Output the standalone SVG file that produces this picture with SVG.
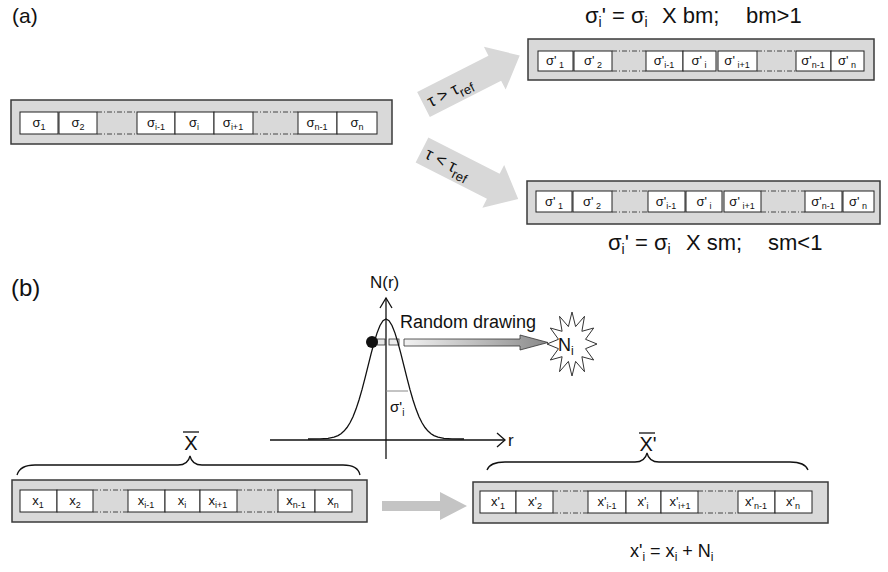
<svg xmlns="http://www.w3.org/2000/svg" width="888" height="572" viewBox="0 0 888 572">
<defs>
<style>
.box{fill:#d9d9d9;stroke:#3a3a3a;stroke-width:1.5}
.cell{fill:#fff;stroke:#222;stroke-width:1}
.dt{fill:none;stroke:#444;stroke-width:1;stroke-dasharray:5 2 1 2}
.t{font-family:"Liberation Sans",Arial,sans-serif;fill:#111}
.lbl{font-family:"Liberation Sans",Arial,sans-serif;font-size:13px;fill:#111;text-anchor:middle}
.sub{font-size:9px}
.garrow{fill:#d8d8d8;stroke:none}
.ax{fill:none;stroke:#111;stroke-width:1.3}
</style>
<linearGradient id="gr" x1="0" y1="0" x2="1" y2="0">
<stop offset="0" stop-color="#f2f2f2"/>
<stop offset="1" stop-color="#8a8a8a"/>
</linearGradient>
</defs>
<rect width="888" height="572" fill="#fff"/>

<text class="t" x="12" y="23" font-size="21">(a)</text>
<text class="t" x="11" y="296" font-size="24">(b)</text>

<!-- Array A1 -->
<g id="arrayA1">
<rect class="box" x="11" y="100" width="381" height="44"/>
<rect class="cell" x="20" y="112" width="38" height="22"/>
<rect class="cell" x="59" y="112" width="38" height="22"/>
<line class="dt" x1="97" y1="112" x2="137" y2="112"/><line class="dt" x1="97" y1="134" x2="137" y2="134"/>
<rect class="cell" x="137" y="112" width="38" height="22"/>
<rect class="cell" x="175" y="112" width="39" height="22"/>
<rect class="cell" x="214" y="112" width="39" height="22"/>
<line class="dt" x1="253" y1="112" x2="298" y2="112"/><line class="dt" x1="253" y1="134" x2="298" y2="134"/>
<rect class="cell" x="298" y="112" width="39" height="22"/>
<rect class="cell" x="337" y="112" width="40" height="22"/>
<text class="lbl" x="39" y="127">σ<tspan class="sub" dy="3">1</tspan></text>
<text class="lbl" x="78" y="127">σ<tspan class="sub" dy="3">2</tspan></text>
<text class="lbl" x="156" y="127">σ<tspan class="sub" dy="3">i-1</tspan></text>
<text class="lbl" x="194" y="127">σ<tspan class="sub" dy="3">i</tspan></text>
<text class="lbl" x="233" y="127">σ<tspan class="sub" dy="3">i+1</tspan></text>
<text class="lbl" x="317" y="127">σ<tspan class="sub" dy="3">n-1</tspan></text>
<text class="lbl" x="357" y="127">σ<tspan class="sub" dy="3">n</tspan></text>
</g>

<!-- Array A2 -->
<g id="arrayA2">
<rect class="box" x="528" y="39" width="346" height="41"/>
<rect class="cell" x="538" y="51" width="35" height="20"/>
<rect class="cell" x="574" y="51" width="38" height="20"/>
<line class="dt" x1="612" y1="51" x2="646" y2="51"/><line class="dt" x1="612" y1="71" x2="646" y2="71"/>
<rect class="cell" x="646" y="51" width="37" height="20"/>
<rect class="cell" x="683" y="51" width="33" height="20"/>
<rect class="cell" x="718" y="51" width="39" height="20"/>
<line class="dt" x1="757" y1="51" x2="796" y2="51"/><line class="dt" x1="757" y1="71" x2="796" y2="71"/>
<rect class="cell" x="796" y="51" width="35" height="20"/>
<rect class="cell" x="831" y="51" width="33" height="20"/>
<text class="lbl" x="555" y="65">σ'<tspan class="sub" dy="3"> 1</tspan></text>
<text class="lbl" x="593" y="65">σ'<tspan class="sub" dy="3"> 2</tspan></text>
<text class="lbl" x="664" y="65">σ'<tspan class="sub" dy="3">i-1</tspan></text>
<text class="lbl" x="699" y="65">σ'<tspan class="sub" dy="3"> i</tspan></text>
<text class="lbl" x="737" y="65">σ'<tspan class="sub" dy="3"> i+1</tspan></text>
<text class="lbl" x="813" y="65">σ'<tspan class="sub" dy="3">n-1</tspan></text>
<text class="lbl" x="847" y="65">σ'<tspan class="sub" dy="3"> n</tspan></text>
</g>

<!-- Array A3 -->
<g id="arrayA3">
<rect class="box" x="527" y="181" width="353" height="43"/>
<rect class="cell" x="536" y="191" width="36" height="21"/>
<rect class="cell" x="573" y="191" width="39" height="21"/>
<line class="dt" x1="612" y1="191" x2="648" y2="191"/><line class="dt" x1="612" y1="212" x2="648" y2="212"/>
<rect class="cell" x="648" y="191" width="37" height="21"/>
<rect class="cell" x="686" y="191" width="36" height="21"/>
<rect class="cell" x="724" y="191" width="37" height="21"/>
<line class="dt" x1="761" y1="191" x2="805" y2="191"/><line class="dt" x1="761" y1="212" x2="805" y2="212"/>
<rect class="cell" x="805" y="191" width="37" height="21"/>
<rect class="cell" x="843" y="191" width="31" height="21"/>
<text class="lbl" x="554" y="206">σ'<tspan class="sub" dy="3"> 1</tspan></text>
<text class="lbl" x="592" y="206">σ'<tspan class="sub" dy="3"> 2</tspan></text>
<text class="lbl" x="666" y="206">σ'<tspan class="sub" dy="3">i-1</tspan></text>
<text class="lbl" x="704" y="206">σ'<tspan class="sub" dy="3"> i</tspan></text>
<text class="lbl" x="742" y="206">σ'<tspan class="sub" dy="3"> i+1</tspan></text>
<text class="lbl" x="823" y="206">σ'<tspan class="sub" dy="3">n-1</tspan></text>
<text class="lbl" x="858" y="206">σ'<tspan class="sub" dy="3"> n</tspan></text>
</g>

<!-- formulas (a) -->
<g id="formulaTop">
<text class="t" x="585" y="23" font-size="22">σ<tspan font-size="14" dy="4">i</tspan><tspan dy="-4">' = σ</tspan><tspan font-size="14" dy="4">i</tspan></text>
<text class="t" x="662" y="23" font-size="22">X bm;</text>
<text class="t" x="746" y="23" font-size="22">bm&gt;1</text>
</g>
<g id="formulaBottom">
<text class="t" x="608" y="250" font-size="22">σ<tspan font-size="14" dy="4">i</tspan><tspan dy="-4">' = σ</tspan><tspan font-size="14" dy="4">i</tspan></text>
<text class="t" x="686" y="250" font-size="22">X sm;</text>
<text class="t" x="768" y="250" font-size="22">sm&lt;1</text>
</g>

<g id="connectors">
<g transform="translate(423.5,104.5) rotate(-27)">
<polygon class="garrow" points="0,-14 80,-14 80,-24 108,0 80,24 80,14 0,14"/>
<text class="t" x="5" y="6" font-size="17">τ &gt; τ<tspan font-size="13" dy="5">ref</tspan></text>
</g>
<g transform="translate(422,150) rotate(27)">
<polygon class="garrow" points="0,-14 80,-14 80,-24 108,0 80,24 80,14 0,14"/>
<text class="t" x="5" y="6" font-size="17">τ &lt; τ<tspan font-size="13" dy="5">ref</tspan></text>
</g>
<polygon fill="#c4c4c4" points="382,501 440,501 440,492 467,506 440,520 440,511 382,511"/>
<rect x="377" y="339" width="8" height="6" fill="#e6e6e6" stroke="#333" stroke-width="0.8"/>
<rect x="389" y="339" width="10" height="6" fill="#ececec" stroke="#333" stroke-width="0.8"/>
<polygon fill="url(#gr)" stroke="#333" stroke-width="0.8" points="404,339 520,339 520,335 548,342.5 520,350 520,346 404,346"/>
</g>

<g id="gaussian">
<line class="ax" x1="270" y1="440" x2="504" y2="440"/>
<polyline class="ax" points="497,433 505,440 497,447"/>
<line class="ax" x1="386" y1="459" x2="386" y2="298"/>
<polyline class="ax" points="380,308 386,298 392,308"/>
<text class="t" x="370" y="288" font-size="17">N(r)</text>
<text class="t" x="508" y="446" font-size="17">r</text>
<polyline fill="none" stroke="#111" stroke-width="1.3" points="308,439 320,438.8 328,438.3 334,437.2 338,435.6 341,433.7 344,431.1 347,427.5 350,422.8 353,416.7 356,409.1 359,400 362,389.7 365,378.2 368,366.2 371,354.2 374,342.9 377,333.1 380,325.5 383,320.7 386,319 389,320.7 392,325.5 395,333.1 398,342.9 401,354.2 404,366.2 407,378.2 410,389.7 413,400 416,409.1 419,416.7 422,422.8 425,427.5 428,431.1 431,433.7 434,435.6 438,437.2 444,438.3 452,438.8 464,439"/>
<line x1="386" y1="391" x2="408" y2="391" stroke="#888" stroke-width="1"/>
<text class="t" x="390" y="412" font-size="15">σ'<tspan font-size="10" dy="4">i</tspan></text>
<circle cx="372" cy="342" r="6" fill="#111"/>
<text class="t" x="400" y="328" font-size="18">Random drawing</text>
</g>

<g id="Ni">
<polygon fill="#fff" stroke="#333" stroke-width="1" points="597,344 585.5,348.7 593.7,360 581.9,356.7 584.5,371.7 575.6,361.4 572,376 568.4,361.4 559.5,371.7 562.1,356.7 550.3,360 558.5,348.7 547,344 558.5,339.3 550.3,328 562.1,331.3 559.5,316.3 568.4,326.6 572,312 575.6,326.6 584.5,316.3 581.9,331.3 593.7,328 585.5,339.3"/>
<text class="t" x="558" y="351" font-size="18">N<tspan font-size="12" dy="4">i</tspan></text>
</g>

<g id="arrayB1">
<text class="t" x="191" y="450" font-size="20" text-anchor="middle">X</text>
<line x1="183" y1="432" x2="199" y2="432" stroke="#111" stroke-width="1.3"/>
<path d="M17,475 Q20,465 35,465 L178,465 Q188,465 190,456 Q192,465 202,465 L343,465 Q358,465 360,475" fill="none" stroke="#111" stroke-width="1.3"/>
<rect class="box" x="12" y="480" width="355" height="42"/>
<rect class="cell" x="20" y="490" width="37" height="22"/>
<rect class="cell" x="57" y="490" width="36" height="22"/>
<line class="dt" x1="93" y1="490" x2="128" y2="490"/><line class="dt" x1="93" y1="512" x2="128" y2="512"/>
<rect class="cell" x="128" y="490" width="37" height="22"/>
<rect class="cell" x="165" y="490" width="35" height="22"/>
<rect class="cell" x="200" y="490" width="37" height="22"/>
<line class="dt" x1="237" y1="490" x2="278" y2="490"/><line class="dt" x1="237" y1="512" x2="278" y2="512"/>
<rect class="cell" x="278" y="490" width="37" height="22"/>
<rect class="cell" x="315" y="490" width="37" height="22"/>
<text class="lbl" x="38" y="505" font-size="12">x<tspan class="sub" dy="3">1</tspan></text>
<text class="lbl" x="75" y="505" font-size="12">x<tspan class="sub" dy="3">2</tspan></text>
<text class="lbl" x="146" y="505" font-size="12">x<tspan class="sub" dy="3">i-1</tspan></text>
<text class="lbl" x="182" y="505" font-size="12">x<tspan class="sub" dy="3">i</tspan></text>
<text class="lbl" x="218" y="505" font-size="12">x<tspan class="sub" dy="3">i+1</tspan></text>
<text class="lbl" x="296" y="505" font-size="12">x<tspan class="sub" dy="3">n-1</tspan></text>
<text class="lbl" x="333" y="505" font-size="12">x<tspan class="sub" dy="3">n</tspan></text>
</g>

<g id="arrayB2">
<text class="t" x="648" y="451" font-size="20" text-anchor="middle">X'</text>
<line x1="639" y1="433" x2="655" y2="433" stroke="#111" stroke-width="1.3"/>
<path d="M487,470 Q490,462 505,462 L635,462 Q645,462 647,453 Q649,462 659,462 L790,462 Q805,462 808,470" fill="none" stroke="#111" stroke-width="1.3"/>
<rect class="box" x="473" y="482" width="355" height="41"/>
<rect class="cell" x="480" y="491" width="36" height="22"/>
<rect class="cell" x="516" y="491" width="37" height="22"/>
<line class="dt" x1="553" y1="491" x2="588" y2="491"/><line class="dt" x1="553" y1="513" x2="588" y2="513"/>
<rect class="cell" x="588" y="491" width="38" height="22"/>
<rect class="cell" x="626" y="491" width="35" height="22"/>
<rect class="cell" x="661" y="491" width="37" height="22"/>
<line class="dt" x1="698" y1="491" x2="738" y2="491"/><line class="dt" x1="698" y1="513" x2="738" y2="513"/>
<rect class="cell" x="738" y="491" width="37" height="22"/>
<rect class="cell" x="775" y="491" width="37" height="22"/>
<text class="lbl" x="498" y="506" font-size="12">x'<tspan class="sub" dy="3">1</tspan></text>
<text class="lbl" x="535" y="506" font-size="12">x'<tspan class="sub" dy="3">2</tspan></text>
<text class="lbl" x="607" y="506" font-size="12">x'<tspan class="sub" dy="3">i-1</tspan></text>
<text class="lbl" x="643" y="506" font-size="12">x'<tspan class="sub" dy="3">i</tspan></text>
<text class="lbl" x="680" y="506" font-size="12">x'<tspan class="sub" dy="3">i+1</tspan></text>
<text class="lbl" x="756" y="506" font-size="12">x'<tspan class="sub" dy="3">n-1</tspan></text>
<text class="lbl" x="793" y="506" font-size="12">x'<tspan class="sub" dy="3">n</tspan></text>
</g>

<text class="t" x="630" y="557" font-size="18">x'<tspan font-size="12" dy="4">i</tspan><tspan dy="-4"> = x</tspan><tspan font-size="12" dy="4">i</tspan><tspan dy="-4"> + N</tspan><tspan font-size="12" dy="4">i</tspan></text>
</svg>
